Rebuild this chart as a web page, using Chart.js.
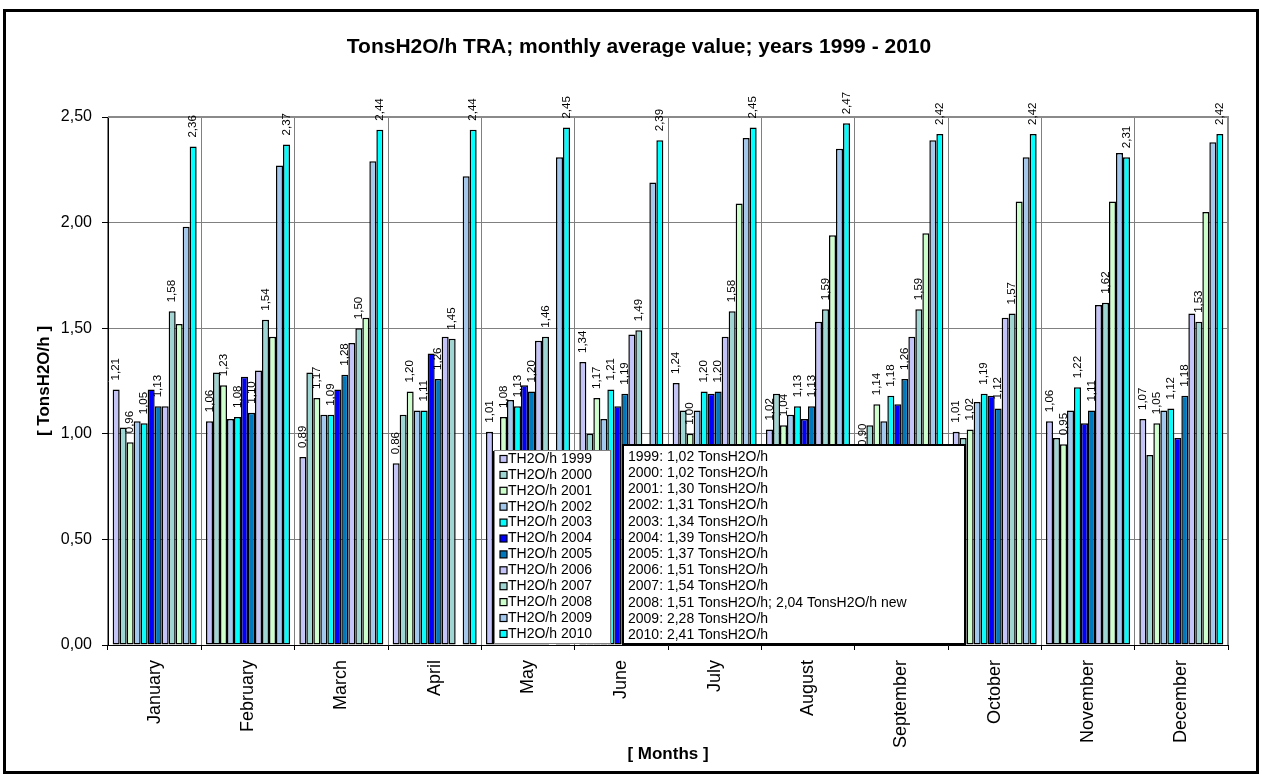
<!DOCTYPE html>
<html>
<head>
<meta charset="utf-8">
<script src="https://cdn.jsdelivr.net/npm/chart.js@4.4.1/dist/chart.umd.min.js"></script>
<style>
  html, body { margin: 0; padding: 0; background: #ffffff; }
  #wrap { width: 1262px; height: 775px; position: relative; }
  canvas { display: block; }
</style>
</head>
<body>
<div id="wrap"><canvas id="chart" width="1262" height="775"></canvas></div>
<script>
// Monthly average throughput per year, TonsH2O/h
const months = ['January', 'February', 'March', 'April', 'May', 'June', 'July',
                'August', 'September', 'October', 'November', 'December'];
const years = ['1999', '2000', '2001', '2002', '2003', '2004',
               '2005', '2006', '2007', '2008', '2009', '2010'];

const th1999 = [1.21, 1.06, 0.89, 0.86, 1.01, 1.34, 1.24, 1.02, 0.90, 1.01, 1.06, 1.07];
const th2000 = [1.03, 1.29, 1.29, 1.09, 0.92, 1.00, 1.11, 1.19, 1.04, 0.98, 0.98, 0.90];
const th2001 = [0.96, 1.23, 1.17, 1.20, 1.08, 1.17, 1.00, 1.04, 1.14, 1.02, 0.95, 1.05];
const th2002 = [1.06, 1.07, 1.09, 1.11, 1.16, 1.07, 1.11, 1.09, 1.06, 1.15, 1.11, 1.11];
const th2003 = [1.05, 1.08, 1.09, 1.11, 1.13, 1.21, 1.20, 1.13, 1.18, 1.19, 1.22, 1.12];
const th2004 = [1.21, 1.27, 1.21, 1.38, 1.23, 1.13, 1.19, 1.07, 1.14, 1.18, 1.05, 0.98];
const th2005 = [1.13, 1.10, 1.28, 1.26, 1.20, 1.19, 1.20, 1.13, 1.26, 1.12, 1.11, 1.18];
const th2006 = [1.13, 1.30, 1.43, 1.46, 1.44, 1.47, 1.46, 1.53, 1.46, 1.55, 1.61, 1.57];
const th2007 = [1.58, 1.54, 1.50, 1.45, 1.46, 1.49, 1.58, 1.59, 1.59, 1.57, 1.62, 1.53];
const th2008 = [1.52, 1.46, 1.55, null, null, null, 2.09, 1.94, 1.95, 2.10, 2.10, 2.05];
const th2009 = [1.98, 2.27, 2.29, 2.22, 2.31, 2.19, 2.40, 2.35, 2.39, 2.31, 2.33, 2.38];
const th2010 = [2.36, 2.37, 2.44, 2.44, 2.45, 2.39, 2.45, 2.47, 2.42, 2.42, 2.31, 2.42];

const yearValues = [th1999, th2000, th2001, th2002, th2003, th2004,
                    th2005, th2006, th2007, th2008, th2009, th2010];

// Fill colours, one per year
const yearColors = ['#C4C4FA', '#9DD6D2', '#CCFFCC', '#A3C8EE', '#00FFFF', '#0000FF',
                    '#0078BE', '#C4C4FA', '#9DD6D2', '#CCFFCC', '#A3C8EE', '#00FFFF'];

// Years whose bars carry a value label
const labelledYears = ['1999', '2001', '2003', '2005', '2007', '2010'];

const yTickLabels = ['0,00', '0,50', '1,00', '1,50', '2,00', '2,50'];

const chartTitle = 'TonsH2O/h TRA; monthly average value; years 1999 - 2010';
const xTitle = '[ Months ]';
const yTitle = '[ TonsH2O/h ]';

// Yearly averages shown in the note box
const averageNotes = [
  '1999: 1,02 TonsH2O/h',
  '2000: 1,02 TonsH2O/h',
  '2001: 1,30 TonsH2O/h',
  '2002: 1,31 TonsH2O/h',
  '2003: 1,34 TonsH2O/h',
  '2004: 1,39 TonsH2O/h',
  '2005: 1,37 TonsH2O/h',
  '2006: 1,51 TonsH2O/h',
  '2007: 1,54 TonsH2O/h',
  '2008: 1,51 TonsH2O/h; 2,04 TonsH2O/h new',
  '2009: 2,28 TonsH2O/h',
  '2010: 2,41 TonsH2O/h'
];

const FONT = '"Liberation Sans", Arial, Helvetica, sans-serif';
const fmt = v => v.toFixed(2).replace('.', ',');

const datasets = years.map((y, i) => ({
  label: 'TH2O/h ' + y,
  year: y,
  data: yearValues[i],
  backgroundColor: yearColors[i],
  borderColor: '#000000',
  borderWidth: 1.5,
  borderSkipped: false,
  categoryPercentage: 0.9,
  barPercentage: 1.0
}));

// White page, plot outline, outer frame and centred title
const framePlugin = {
  id: 'frame',
  beforeDraw(chart) {
    const { ctx, width, height } = chart;
    ctx.save();
    ctx.fillStyle = '#ffffff';
    ctx.fillRect(0, 0, width, height);
    ctx.restore();
  },
  beforeDatasetsDraw(chart) {
    const { ctx, chartArea: a } = chart;
    ctx.save();
    ctx.strokeStyle = '#8a8a8a';
    ctx.lineWidth = 2;
    ctx.beginPath();
    ctx.moveTo(a.left, a.top);
    ctx.lineTo(a.right, a.top);
    ctx.lineTo(a.right, a.bottom);
    ctx.stroke();
    ctx.restore();
  },
  afterDraw(chart) {
    const { ctx, width, height } = chart;
    ctx.save();
    ctx.strokeStyle = '#000000';
    ctx.lineWidth = 3;
    ctx.strokeRect(4.5, 10.5, width - 9, height - 13);
    ctx.fillStyle = '#000000';
    ctx.font = 'bold 21px ' + FONT;
    ctx.textAlign = 'center';
    ctx.textBaseline = 'middle';
    ctx.fillText(chartTitle, width / 2 + 8, 47);
    ctx.restore();
  }
};

// Rotated value labels above selected bars
const valueLabelPlugin = {
  id: 'valueLabels',
  afterDatasetsDraw(chart) {
    const { ctx } = chart;
    ctx.save();
    ctx.font = '11.5px ' + FONT;
    ctx.fillStyle = '#000000';
    ctx.textAlign = 'left';
    ctx.textBaseline = 'middle';
    chart.data.datasets.forEach((ds, di) => {
      if (!labelledYears.includes(ds.year)) return;
      const meta = chart.getDatasetMeta(di);
      meta.data.forEach((bar, j) => {
        const v = ds.data[j];
        if (v === null || v === undefined) return;
        ctx.save();
        ctx.translate(bar.x, bar.y - 9);
        ctx.rotate(-Math.PI / 2);
        ctx.fillText(fmt(v), 0, 0);
        ctx.restore();
      });
    });
    ctx.restore();
  }
};

// Series key and the box with yearly averages, laid over the plot
const keyPlugin = {
  id: 'keyBoxes',
  afterDraw(chart) {
    const { ctx } = chart;
    ctx.save();
    // series key
    const kx = 494, ky = 450, kw = 116, kh = 193, row = 15.9;
    ctx.fillStyle = '#ffffff';
    ctx.fillRect(kx, ky, kw, kh);
    ctx.strokeStyle = '#808080';
    ctx.lineWidth = 1;
    ctx.strokeRect(kx + 0.5, ky + 0.5, kw, kh);
    ctx.font = '14px ' + FONT;
    ctx.textBaseline = 'middle';
    ctx.textAlign = 'left';
    chart.data.datasets.forEach((ds, i) => {
      const cy = ky + 9 + i * row;
      ctx.fillStyle = ds.backgroundColor;
      ctx.fillRect(kx + 6, cy - 3.5, 7, 7);
      ctx.strokeStyle = '#000000';
      ctx.lineWidth = 1.2;
      ctx.strokeRect(kx + 6, cy - 3.5, 7, 7);
      ctx.fillStyle = '#000000';
      ctx.fillText(ds.label, kx + 14, cy);
    });
    // averages box
    const nx = 623, ny = 445, nw = 342, nh = 199, nrow = 16.2;
    ctx.fillStyle = '#ffffff';
    ctx.fillRect(nx, ny, nw, nh);
    ctx.strokeStyle = '#000000';
    ctx.lineWidth = 2;
    ctx.strokeRect(nx, ny, nw, nh);
    ctx.fillStyle = '#000000';
    averageNotes.forEach((t, i) => {
      ctx.fillText(t, nx + 5, ny + 12 + i * nrow);
    });
    ctx.restore();
  }
};

new Chart(document.getElementById('chart'), {
  type: 'bar',
  data: { labels: months, datasets: datasets },
  options: {
    responsive: false,
    animation: false,
    devicePixelRatio: 1,
    layout: { padding: { left: 0, right: 34, top: 117, bottom: 0 } },
    plugins: {
      legend: { display: false },
      title: { display: false },
      tooltip: { enabled: false }
    },
    scales: {
      x: {
        type: 'category',
        grid: { offset: true, color: '#808080', lineWidth: 1, tickColor: '#000000', tickLength: 5 },
        border: { color: '#000000', width: 1 },
        ticks: {
          autoSkip: false, minRotation: 90, maxRotation: 90,
          color: '#000000', padding: 10,
          font: { family: FONT, size: 18 }
        },
        title: {
          display: true, text: xTitle, color: '#000000',
          font: { family: FONT, size: 17, weight: 'bold' },
          padding: { top: 0, bottom: 10 }
        },
        afterFit(scale) { scale.height = 130; }
      },
      y: {
        min: 0, max: 2.5,
        grid: { color: '#808080', lineWidth: 1, tickColor: '#000000', tickLength: 6 },
        border: { color: '#000000', width: 1 },
        ticks: {
          stepSize: 0.5, color: '#000000', padding: 10,
          font: { family: FONT, size: 16 },
          callback: (v, i) => yTickLabels[i]
        },
        title: {
          display: true, text: yTitle, color: '#000000',
          font: { family: FONT, size: 17, weight: 'bold' },
          padding: { top: 34, bottom: 0 }
        },
        afterFit(scale) { scale.width = 108; }
      }
    }
  },
  plugins: [framePlugin, valueLabelPlugin, keyPlugin]
});
</script>
</body>
</html>
